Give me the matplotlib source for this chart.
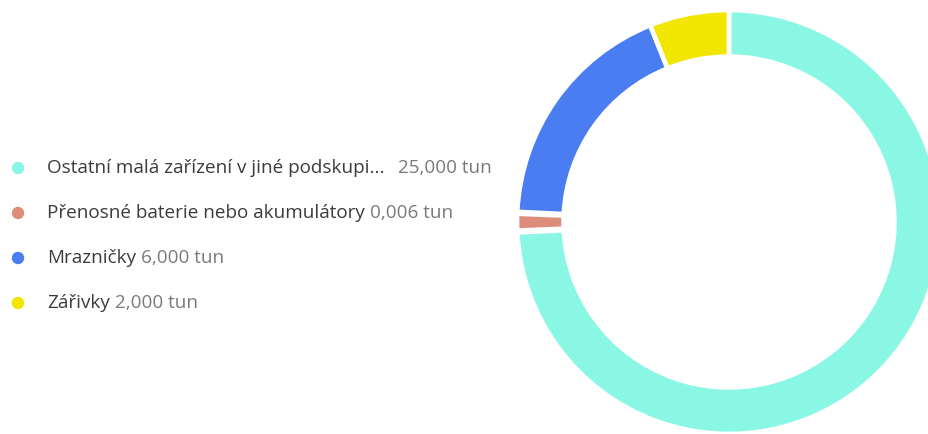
import numpy as np
import matplotlib.pyplot as plt
from matplotlib.patches import Ellipse

# data
labels = ['Ostatní malá zařízení v jiné podskupi...', 'Přenosné baterie nebo akumulátory',
          'Mrazničky', 'Zářivky']
values = [25.0, 0.006, 6.0, 2.0]
value_text = ['25,000 tun', '0,006 tun', '6,000 tun', '2,000 tun']
colors = ['#8AF7E5', '#DE8D7A', '#4A7CF2', '#F2E500']

W, H = 929, 434
fig = plt.figure(figsize=(W / 100, H / 100), dpi=100)
plt.rcParams['font.family'] = ['Open Sans', 'DejaVu Sans']

# donut: tiny slices get a minimum visible share, taken from the largest slice
vals = np.array(values)
min_share = 0.0155 * vals.sum()
disp = np.maximum(vals, min_share)
disp[np.argmax(vals)] -= (disp - vals).sum()

cx, cy, r = 729, 222, 212
ax = fig.add_axes([(cx - r) / W, (H - cy - r) / H, 2 * r / W, 2 * r / H])
wedges, _ = ax.pie(disp, colors=colors, startangle=90, counterclock=False, radius=1.0,
                   wedgeprops=dict(width=0.22, edgecolor='white', linewidth=3.4))
# extra padding around the tiny slice
for w, v in zip(wedges, vals):
    if v < min_share:
        w.set_theta1(w.theta1 + 0.5)
        w.set_theta2(w.theta2 - 0.5)
ax.set_xlim(-1, 1)
ax.set_ylim(-1, 1)

# legend
rows_y = [168, 213, 258, 303]
fs = 13.6
marker_x = 18
text_x = 47
label_objs = []
for i in range(len(labels)):
    y = 1 - rows_y[i] / H
    fig.patches.append(Ellipse((marker_x / W, y), 11 / W, 11 / H, transform=fig.transFigure,
                               color=colors[i], figure=fig))
    t = fig.text(text_x / W, y, labels[i], fontsize=fs, color='#3b3b3b', va='center', ha='left')
    label_objs.append(t)

fig.canvas.draw()
rend = fig.canvas.get_renderer()
for i, t in enumerate(label_objs):
    bb = t.get_window_extent(renderer=rend)
    gap = 14 if i == 0 else 5
    y = 1 - rows_y[i] / H
    fig.text((bb.x1 + gap) / W, y, value_text[i], fontsize=fs, color='#7a7a7a', va='center', ha='left')

fig.savefig('out.png', dpi=100)
